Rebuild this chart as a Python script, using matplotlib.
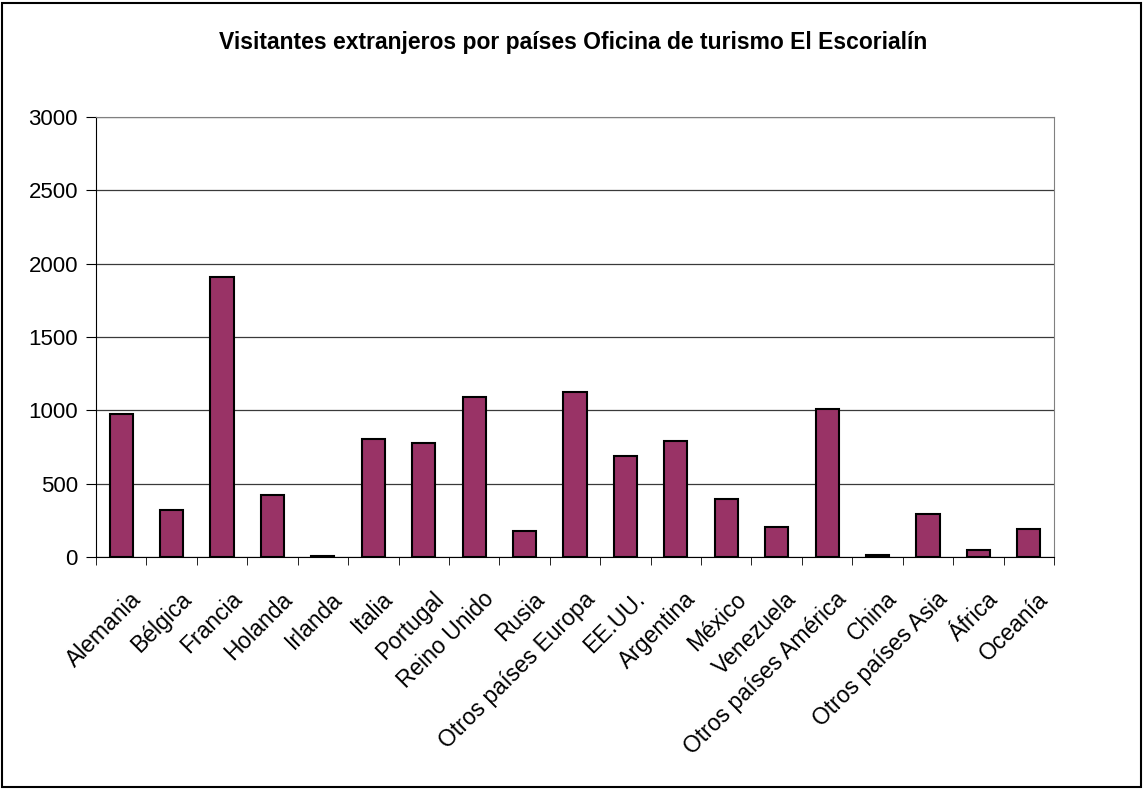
import numpy as np
import matplotlib
matplotlib.use('Agg')
import matplotlib.pyplot as plt
from matplotlib.patches import Rectangle
from matplotlib.transforms import ScaledTranslation

plt.rcParams['font.family'] = ['Liberation Sans', 'DejaVu Sans']

paises = ['Alemania', 'Bélgica', 'Francia', 'Holanda', 'Irlanda', 'Italia',
          'Portugal', 'Reino Unido', 'Rusia', 'Otros países Europa', 'EE.UU.',
          'Argentina', 'México', 'Venezuela', 'Otros países América', 'China',
          'Otros países Asia', 'África', 'Oceanía']
visitantes = [974, 319, 1908, 421, 9, 804, 778, 1088, 175, 1127, 690,
              792, 396, 205, 1011, 11, 294, 50, 191]

fig = plt.figure(figsize=(11.46, 7.89), dpi=100)
ax = fig.add_axes([96 / 1146, 1 - 557 / 789, (1054 - 96) / 1146, (557 - 117) / 789])

x = np.arange(len(paises))
ax.bar(x, visitantes, width=0.46, color='#993366', edgecolor='black',
       linewidth=1.5, zorder=3)

ax.set_xlim(-0.5, len(paises) - 0.5)
ax.set_ylim(0, 3000)
ax.set_yticks(np.arange(0, 3001, 500))
ax.yaxis.grid(True, color='#3a3a3a', linewidth=0.9, zorder=0)
ax.set_axisbelow(True)

ax.set_xticks(x)
ax.set_xticklabels(paises, rotation=45, ha='right', va='top',
                   rotation_mode='anchor', fontsize=16.5)
ax.set_xticks(np.arange(-0.5, len(paises)), minor=True)
ax.tick_params(axis='x', which='major', length=0, pad=22)
ax.tick_params(axis='x', which='minor', length=6, direction='out', color='black')
ax.tick_params(axis='y', length=7, direction='out', labelsize=16, pad=6)

# nudge the rotated labels a little to the right, like the original
shift = ScaledTranslation(0.08, 0, fig.dpi_scale_trans)
for lab in ax.get_xticklabels():
    lab.set_transform(lab.get_transform() + shift)

for side in ['top', 'right']:
    ax.spines[side].set_color('#808080')
ax.spines['left'].set_color('black')
ax.spines['bottom'].set_color('black')

fig.text(0.5, 1 - 42 / 789,
         'Visitantes extranjeros por países Oficina de turismo El Escorialín',
         ha='center', va='center', fontsize=16.5, fontweight='bold')

fig.patches.append(Rectangle((0.002, 0.003), 0.994, 0.993, transform=fig.transFigure,
                             fill=False, edgecolor='black', linewidth=1.5))

fig.savefig('out.png', dpi=100)
